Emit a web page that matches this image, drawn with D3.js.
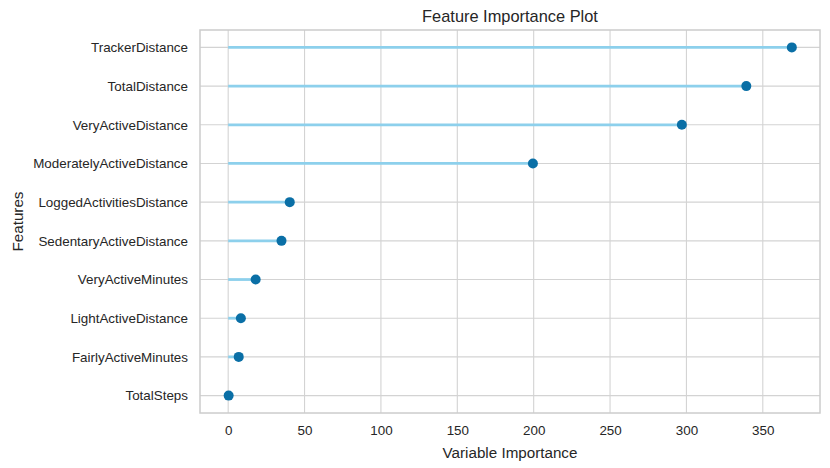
<!DOCTYPE html>
<html>
<head>
<meta charset="utf-8">
<script src="https://cdn.jsdelivr.net/npm/d3@7"></script>
<style>
html,body{margin:0;padding:0;background:#fff;}
svg{display:block;font-family:"Liberation Sans",Arial,sans-serif;}
</style>
</head>
<body>
<svg id="chart" width="830" height="468"></svg>
<script>
const features = ["TrackerDistance","TotalDistance","VeryActiveDistance","ModeratelyActiveDistance","LoggedActivitiesDistance","SedentaryActiveDistance","VeryActiveMinutes","LightActiveDistance","FairlyActiveMinutes","TotalSteps"];
const importance = [369, 339.2, 297, 199.5, 40.3, 34.9, 18.0, 8.3, 6.9, 0.3];
const xTicks = [0,50,100,150,200,250,300,350];
const titleText = "Feature Importance Plot";
const xLabel = "Variable Importance";
const yLabel = "Features";

const svg = d3.select("#chart");
const L = 200, R = 820, T = 30, B = 413;
const maxV = d3.max(importance);
const pad = maxV * 0.05;
const x = d3.scaleLinear().domain([-pad, maxV + pad]).range([L, R]);
const n = features.length;
const y = d3.scaleLinear().domain([-0.45, n - 1 + 0.45]).range([T, B]);

// grid
const g = svg.append("g");
g.selectAll("line.vg").data(xTicks).join("line")
  .attr("x1", d => x(d)).attr("x2", d => x(d)).attr("y1", T).attr("y2", B)
  .attr("stroke", "#d3d3d3").attr("stroke-width", 1.1);
g.selectAll("line.hg").data(features).join("line")
  .attr("x1", L).attr("x2", R).attr("y1", (d,i) => y(i)).attr("y2", (d,i) => y(i))
  .attr("stroke", "#d3d3d3").attr("stroke-width", 1.1);

// axes
const xAxis = d3.axisBottom(x).tickValues(xTicks).tickSize(0).tickPadding(12).tickFormat(d3.format("d"));
const xa = svg.append("g").attr("transform", `translate(0,${B})`).call(xAxis);
xa.select(".domain").remove();
xa.selectAll("text").attr("font-size", 13.4).attr("fill", "#262626").attr("font-family", "Liberation Sans, Arial, sans-serif");

const yAxis = d3.axisLeft(d3.scalePoint().domain(features).range([y(0), y(n-1)])).tickSize(0).tickPadding(12);
const ya = svg.append("g").attr("transform", `translate(${L},0)`).call(yAxis);
ya.select(".domain").remove();
ya.selectAll("text").attr("font-size", 13.4).attr("fill", "#262626").attr("font-family", "Liberation Sans, Arial, sans-serif");

// stems
svg.append("g").selectAll("line").data(importance).join("line")
  .attr("x1", x(0)).attr("x2", d => x(d))
  .attr("y1", (d,i) => y(i)).attr("y2", (d,i) => y(i))
  .attr("stroke", "#8dd0ec").attr("stroke-width", 2.8);

// dots
svg.append("g").selectAll("circle").data(importance).join("circle")
  .attr("cx", d => x(d)).attr("cy", (d,i) => y(i)).attr("r", 5)
  .attr("fill", "#0a6fa6");

// frame
svg.append("rect").attr("x", L).attr("y", T).attr("width", R - L).attr("height", B - T)
  .attr("fill", "none").attr("stroke", "#cccccc").attr("stroke-width", 1.5);

// titles
svg.append("text").attr("x", (L + R) / 2).attr("y", 22).attr("text-anchor", "middle")
  .attr("font-size", 16.4).attr("fill", "#262626").text(titleText);
svg.append("text").attr("x", (L + R) / 2).attr("y", 458).attr("text-anchor", "middle")
  .attr("font-size", 15.2).attr("fill", "#262626").text(xLabel);
svg.append("text").attr("transform", `translate(23,${(T + B) / 2}) rotate(-90)`).attr("text-anchor", "middle")
  .attr("font-size", 15.2).attr("fill", "#262626").text(yLabel);
</script>
</body>
</html>
